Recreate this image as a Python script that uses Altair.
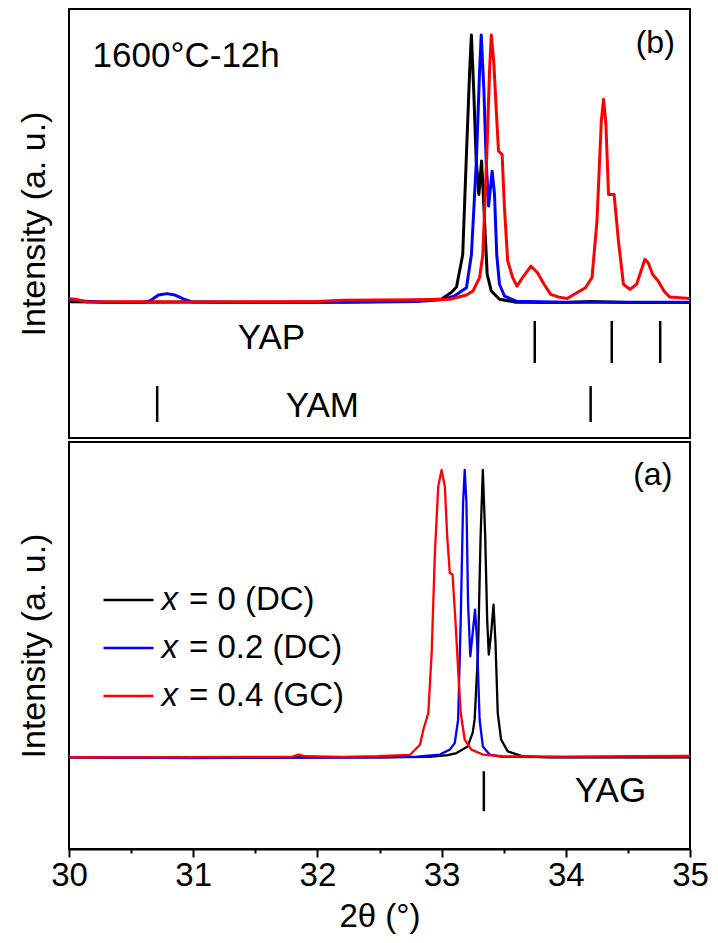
import altair as alt
import pandas as pd

FONT = "Liberation Sans"

# ---------------- panel (b): 1600°C-12h ----------------
b_black_theta = [30.0, 30.5, 31.0, 31.5, 32.0, 32.5, 32.9, 33.0, 33.08, 33.12, 33.17, 33.20, 33.226,
                 33.24, 33.258, 33.279, 33.30, 33.322, 33.346, 33.367, 33.40, 33.466, 33.60, 34.0,
                 34.2, 34.5, 35.0]
b_black_int = [0.005, 0.003, 0.004, 0.003, 0.004, 0.006, 0.012, 0.015, 0.04, 0.06, 0.18, 0.555, 0.866,
               1.0, 0.80, 0.53, 0.405, 0.53, 0.306, 0.107, 0.045, 0.014, 0.003, 0.002,
               0.006, 0.002, 0.002]

b_blue_theta = [30.0, 30.3, 30.6, 30.66, 30.72, 30.79, 30.85, 30.92, 30.99, 31.3, 31.8, 32.3, 32.8,
                33.0, 33.1, 33.2, 33.24, 33.28, 33.306, 33.319, 33.34, 33.359, 33.378, 33.407,
                33.426, 33.444, 33.466, 33.506, 33.60, 34.0, 34.5, 35.0]
b_blue_int = [0.01, 0.002, 0.002, 0.01, 0.03, 0.035, 0.03, 0.015, 0.004, 0.002, 0.002, 0.003, 0.006,
              0.012, 0.025, 0.057, 0.18, 0.53, 0.866, 1.0, 0.80, 0.53, 0.362, 0.492,
              0.405, 0.18, 0.07, 0.026, 0.007, 0.003, 0.003, 0.003]

b_red_theta = [30.0, 30.05, 30.15, 30.5, 31.0, 31.5, 32.0, 32.2, 32.5, 32.8, 33.0, 33.066, 33.2,
               33.253, 33.306, 33.332, 33.364, 33.386, 33.40, 33.42, 33.439, 33.458, 33.487,
               33.506, 33.532, 33.572, 33.607, 33.652, 33.719, 33.772, 33.825, 33.878, 33.945,
               34.011, 34.065, 34.158, 34.211, 34.251, 34.286, 34.304, 34.323, 34.344, 34.389,
               34.424, 34.464, 34.517, 34.57, 34.637, 34.664, 34.698, 34.744, 34.79, 34.837, 35.0]
b_red_int = [0.016, 0.014, 0.004, 0.005, 0.004, 0.005, 0.006, 0.01, 0.011, 0.012, 0.013, 0.014, 0.03,
             0.045, 0.095, 0.18, 0.555, 0.866, 1.0, 0.90, 0.729, 0.567, 0.555,
             0.356, 0.157, 0.095, 0.063, 0.095, 0.138, 0.113, 0.07, 0.032, 0.022,
             0.017, 0.032, 0.057, 0.095, 0.306, 0.679, 0.76, 0.667, 0.405, 0.405,
             0.231, 0.07, 0.051, 0.07, 0.163, 0.15, 0.107, 0.082, 0.045, 0.022, 0.017]

# ---------------- panel (a) ----------------
a_black_theta = [30.0, 30.5, 31.0, 31.5, 32.0, 32.5, 32.9, 33.05, 33.12, 33.21, 33.25, 33.266, 33.293,
                 33.314, 33.332, 33.351, 33.367, 33.38, 33.399, 33.418, 33.434, 33.452, 33.479,
                 33.532, 33.652, 33.865, 34.5, 35.0]
a_black_int = [0.002, 0.001, 0.002, 0.001, 0.002, 0.002, 0.004, 0.01, 0.017, 0.04, 0.087, 0.133, 0.365,
               0.77, 1.0, 0.77, 0.48, 0.359, 0.434, 0.532, 0.399, 0.156, 0.064,
               0.023, 0.006, 0.002, 0.002, 0.002]

a_blue_theta = [30.0, 30.5, 31.0, 31.5, 32.0, 32.5, 32.8, 32.986, 33.066, 33.106, 33.133, 33.154,
                33.173, 33.186, 33.20, 33.213, 33.231, 33.253, 33.269, 33.285, 33.306, 33.332,
                33.386, 33.49, 34.0, 34.5, 35.0]
a_blue_int = [0.002, 0.001, 0.0, 0.001, 0.001, 0.002, 0.005, 0.012, 0.029, 0.052, 0.133, 0.48,
              0.885, 1.0, 0.885, 0.538, 0.353, 0.446, 0.515, 0.411, 0.133, 0.04,
              0.012, 0.004, 0.003, 0.003, 0.003]

a_red_theta = [30.0, 30.5, 31.0, 31.5, 31.8, 31.85, 31.9, 32.2, 32.48, 32.746, 32.826, 32.853, 32.893,
               32.92, 32.946, 32.973, 33.0, 33.026, 33.045, 33.066, 33.088, 33.111, 33.133, 33.154,
               33.186, 33.239, 33.332, 33.492, 34.0, 34.5, 35.0]
a_red_int = [0.003, 0.002, 0.003, 0.004, 0.005, 0.012, 0.006, 0.004, 0.006, 0.011, 0.046, 0.098, 0.156,
             0.365, 0.712, 0.943, 1.0, 0.943, 0.77, 0.642, 0.637, 0.48, 0.307, 0.156,
             0.064, 0.029, 0.012, 0.006, 0.005, 0.006, 0.007]

SERIES = ["x = 0 (DC)", "x = 0.2 (DC)", "x = 0.4 (GC)"]
SERIES_REST = ["= 0 (DC)", "= 0.2 (DC)", "= 0.4 (GC)"]
COLORS = ["#000000", "#0000ff", "#ff0000"]

# reference (phase) line positions, 2θ
YAP_pos = [33.75, 34.37, 34.76]
YAM_pos = [30.71, 34.20]
YAG_pos = [33.34]

X_TICKS = [30, 30.5, 31, 31.5, 32, 32.5, 33, 33.5, 34, 34.5, 35]

X_SCALE = alt.Scale(domain=[30, 35], nice=False, zero=False)
COLOR_SCALE = alt.Scale(domain=SERIES, range=COLORS)

Y_AXIS = alt.Axis(title="Intensity (a. u.)", labels=False, ticks=False, domain=False, grid=False,
                  titleFont=FONT, titleFontSize=34, titleFontWeight="normal", titleColor="black",
                  titlePadding=18)

X_AXIS = alt.Axis(values=X_TICKS, grid=False, domain=True, domainColor="black", domainWidth=2,
                  tickColor="black", tickWidth=2,
                  tickSize={"condition": {"test": "datum.value % 1 === 0", "value": 8}, "value": 4},
                  labelExpr="datum.value % 1 === 0 ? format(datum.value, 'd') : ''",
                  labelFlush=False, labelOverlap=False,
                  labelFont=FONT, labelFontSize=33, labelColor="black", labelPadding=2,
                  title="2θ (°)", titleFont=FONT, titleFontSize=33, titleFontWeight="normal",
                  titleColor="black", titlePadding=8)

PLOT_W = 621


def traces(pairs, yscale, xaxis, sw):
    layers = []
    for (theta, inten), name in pairs:
        df = pd.DataFrame({"theta": theta, "intensity": inten, "series": name})
        layers.append(
            alt.Chart(df).mark_line(strokeWidth=sw, strokeJoin="round").encode(
                x=alt.X("theta:Q", scale=X_SCALE, axis=xaxis),
                y=alt.Y("intensity:Q", scale=yscale, axis=Y_AXIS),
                color=alt.Color("series:N", scale=COLOR_SCALE, legend=None),
            )
        )
    return layers


def ref_rules(positions, y1, y2):
    df = pd.DataFrame({"pos": positions, "y1": y1, "y2": y2})
    return alt.Chart(df).mark_rule(color="black", strokeWidth=2.5).encode(
        x=alt.X("pos:Q", scale=X_SCALE), y="y1:Q", y2="y2:Q")


def label(text, xv, yv, size, align="center"):
    df = pd.DataFrame({"t": [text], "x": [xv], "y": [yv]})
    return alt.Chart(df).mark_text(font=FONT, fontSize=size, align=align, baseline="middle",
                                   color="black").encode(
        x=alt.X("x:Q", scale=X_SCALE), y="y:Q", text="t:N")


# ---------------- top panel (b) ----------------
y_top = alt.Scale(domain=[-0.5037, 1.097], nice=False, zero=False)
top_layers = traces([((b_black_theta, b_black_int), SERIES[0]),
                     ((b_blue_theta, b_blue_int), SERIES[1]),
                     ((b_red_theta, b_red_int), SERIES[2])], y_top, None, 3.0)
top_layers += [
    ref_rules(YAP_pos, -0.067, -0.224),
    ref_rules(YAM_pos, -0.31, -0.444),
    label("YAP", 31.63, -0.132, 35),
    label("YAM", 32.04, -0.384, 35),
    label("(b)", 34.72, 0.972, 32),
    label("1600°C-12h", 30.19, 0.92, 35, align="left"),
]
top = alt.layer(*top_layers).properties(width=PLOT_W, height=429)

# ---------------- bottom panel (a) ----------------
y_bot = alt.Scale(domain=[-0.316, 1.097], nice=False, zero=False)
bot_layers = traces([((a_black_theta, a_black_int), SERIES[0]),
                     ((a_blue_theta, a_blue_int), SERIES[1]),
                     ((a_red_theta, a_red_int), SERIES[2])], y_bot, X_AXIS, 2.3)
bot_layers += [
    ref_rules(YAG_pos, -0.046, -0.185),
    label("YAG", 34.36, -0.113, 35),
    label("(a)", 34.70, 0.983, 32),
]

# legend drawn by hand (italic x)
LEG_Y = [158, 206, 254]
for i in range(3):
    src = alt.Chart(pd.DataFrame({"rest": [SERIES_REST[i]]}))
    bot_layers += [
        src.mark_rule(color=COLORS[i], strokeWidth=2.5).encode(
            x=alt.value(34.5), x2=alt.value(84.5), y=alt.value(LEG_Y[i])),
        src.mark_text(font=FONT, fontSize=33, fontStyle="italic", align="left",
                      baseline="middle", color="black").encode(
            x=alt.value(92.5), y=alt.value(LEG_Y[i]), text=alt.value("x")),
        src.mark_text(font=FONT, fontSize=33, align="left", baseline="middle",
                      color="black").encode(
            x=alt.value(120), y=alt.value(LEG_Y[i]), text="rest:N"),
    ]
bottom = alt.layer(*bot_layers).properties(width=PLOT_W, height=407)

chart = alt.vconcat(top, bottom, spacing=2).properties(
    padding={"left": 8, "top": 0, "right": 0, "bottom": 0},
    background="white",
).configure_view(stroke="black", strokeWidth=2)

chart.save("out.html", embed_options={"renderer": "svg", "actions": False})
